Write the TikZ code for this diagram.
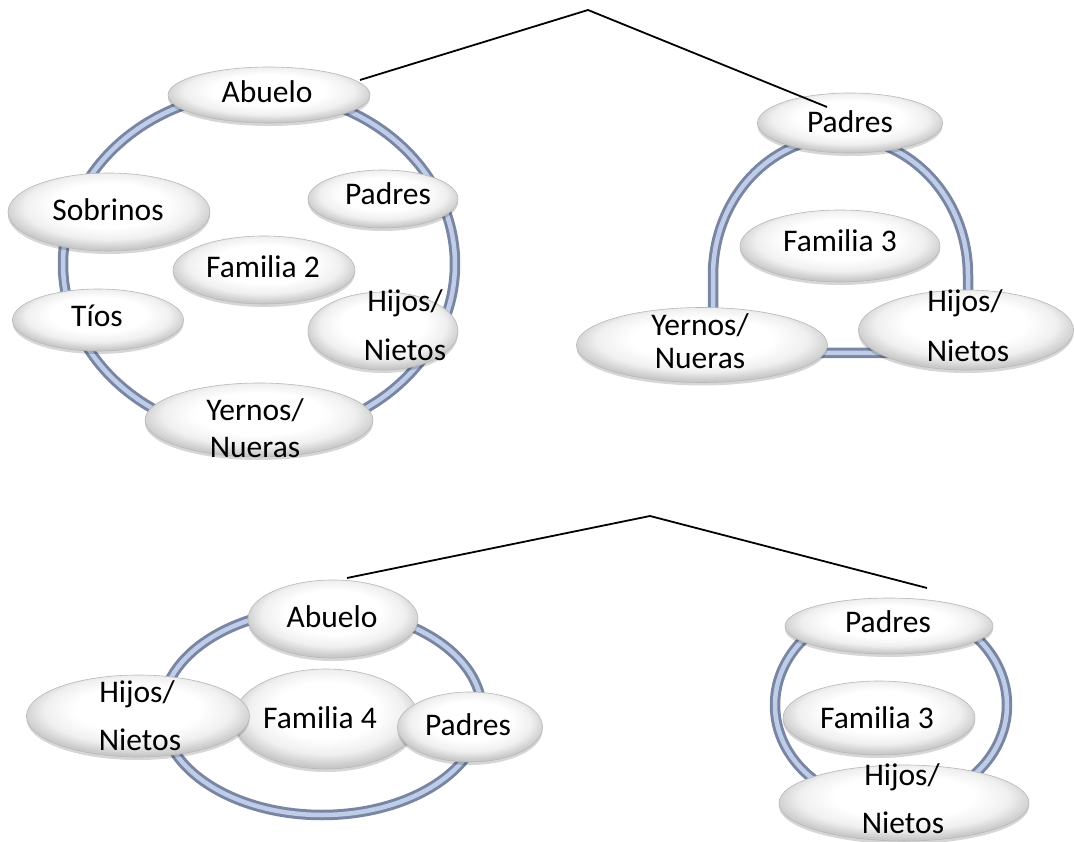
\documentclass[tikz,border=0pt]{standalone}
\usepackage{fontspec}
\setmainfont{Carlito}
\usetikzlibrary{shapes.geometric,shadows,calc}

\definecolor{ringdark}{RGB}{120,134,164}
\definecolor{ringlight}{RGB}{192,205,232}

% glossy bubble: white centre raised a little, grey towards the lower rim
\pgfdeclareradialshading{bubble}{\pgfpoint{0bp}{6bp}}{%
  color(0bp)=(white); color(14bp)=(white); color(21bp)=(black!6);
  color(26bp)=(black!20); color(31bp)=(black!30); color(50bp)=(black!30)}

\tikzset{
  bub/.style={ellipse, draw=black!28, line width=0.6pt, shading=bubble, inner sep=0pt,
    drop shadow={shadow xshift=0pt, shadow yshift=-3pt, opacity=0.16, fill=black}},
  txt/.style={anchor=base, inner sep=0pt, font=\fontsize{31.5}{38}\selectfont},
  tube/.style={line width=10.5pt, draw=ringdark, line join=round,
    postaction={draw=ringlight, line width=4.5pt}},
  link/.style={draw=black, line width=1.8pt, line join=miter},
}

\begin{document}
\begin{tikzpicture}[x=1pt, y=-1pt]
\useasboundingbox (0,0) rectangle (1074,842);

% ---------------- Familia 2 ----------------
\draw[tube] (259,264) ellipse [x radius=196, y radius=172];
\node[bub, minimum width=202, minimum height=56] (d1abuelo) at (269,95) {};
\node[bub, minimum width=202, minimum height=78] (d1sobrinos) at (109,212) {};
\node[bub, minimum width=150, minimum height=58] (d1padres) at (383,199) {};
\node[bub, minimum width=182, minimum height=68] (d1familia) at (264,270) {};
\node[bub, minimum width=171, minimum height=62] (d1tios) at (98,320) {};
\node[bub, minimum width=150, minimum height=78] (d1hijos) at (383,331) {};
\node[bub, minimum width=228, minimum height=74] (d1yernos) at (259,420) {};
\node[txt] (t1abuelo) at (267,103) {Abuelo};
\node[txt] (t1sobrinos) at (108,221) {Sobrinos};
\node[txt] (t1padres) at (388,205) {Padres};
\node[txt] (t1familia) at (263,278) {Familia 2};
\node[txt] (t1tios) at (97,327) {Tíos};
\node[txt] (t1hijos) at (405,312) {Hijos/};
\node[txt] (t1nietos) at (405,360) {Nietos};
\node[txt] (t1yernos) at (255,420) {Yernos/};
\node[txt] (t1nueras) at (255,457) {Nueras};

% ---------------- Familia 3 (top) ----------------
\draw[tube] plot[domain=180:360, samples=72] ({840.5+127.5*cos(\x)}, {275+138*sin(\x)})
  -- (968,353) -- (713,353) -- cycle;
\node[bub, minimum width=185, minimum height=60] (d2padres) at (850,123) {};
\node[bub, minimum width=200, minimum height=72] (d2familia) at (840,246) {};
\node[bub, minimum width=251, minimum height=75] (d2yernos) at (702,345) {};
\node[bub, minimum width=215, minimum height=80] (d2hijos) at (966,330) {};
\node[txt] (t2padres) at (850,133) {Padres};
\node[txt] (t2familia) at (840,252) {Familia 3};
\node[txt] (t2yernos) at (700,336) {Yernos/};
\node[txt] (t2nueras) at (700,369) {Nueras};
\node[txt] (t2hijos) at (965,312) {Hijos/};
\node[txt] (t2nietos) at (968,362) {Nietos};

% ---------------- Familia 4 ----------------
\draw[tube] (322,712) ellipse [x radius=160, y radius=103];
\node[bub, minimum width=170, minimum height=78] (d3abuelo) at (333,619) {};
\node[bub, minimum width=185, minimum height=100] (d3familia) at (326,719) {};
\node[bub, minimum width=223, minimum height=82] (d3hijos) at (138,716) {};
\node[bub, minimum width=145, minimum height=70] (d3padres) at (470,727) {};
\node[txt] (t3abuelo) at (332,627) {Abuelo};
\node[txt] (t3familia) at (320,728) {Familia 4};
\node[txt] (t3hijos) at (137,702) {Hijos/};
\node[txt] (t3nietos) at (140,750) {Nietos};
\node[txt] (t3padres) at (468,735) {Padres};

% ---------------- Familia 3 (bottom) ----------------
\draw[tube] (891,705) ellipse [x radius=116, y radius=100];
\node[bub, minimum width=208, minimum height=56] (d4padres) at (889,626) {};
\node[bub, minimum width=192, minimum height=74] (d4familia) at (879,718) {};
\node[bub, minimum width=250, minimum height=76] (d4hijos) at (904,803) {};
\node[txt] (t4padres) at (888,632) {Padres};
\node[txt] (t4familia) at (877,728) {Familia 3};
\node[txt] (t4hijos) at (902,785) {Hijos/};
\node[txt] (t4nietos) at (903,833) {Nietos};

% ---------------- links between the families ----------------
\coordinate (apexA) at (588,10);
\coordinate (apexB) at (650,516);
\draw[link] ($(d1abuelo.center)+(91,-15)$) -- (apexA) -- ($(d2padres.center)+(-23,-16)$);
\draw[link] ($(d3abuelo.center)+(14,-41)$) -- (apexB) -- ($(d4padres.center)+(38,-38)$);
\end{tikzpicture}
\end{document}
